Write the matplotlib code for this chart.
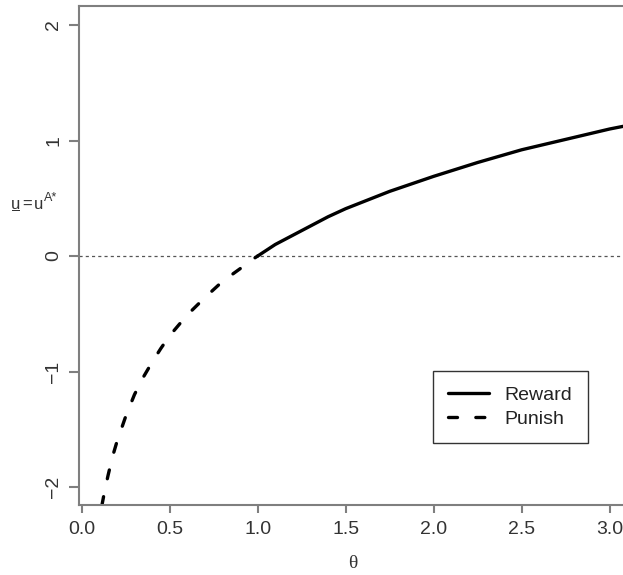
import matplotlib
matplotlib.use("Agg")
import matplotlib.pyplot as plt
from matplotlib.patches import Rectangle

# values
punish_theta = [0.115, 0.13, 0.15, 0.175, 0.2, 0.25, 0.3, 0.35, 0.4, 0.45,
                0.5, 0.6, 0.7, 0.8, 0.9, 0.95, 1.0]
punish_u = [-2.16, -2.04, -1.90, -1.74, -1.61, -1.39, -1.20, -1.05, -0.92, -0.80,
            -0.69, -0.51, -0.36, -0.22, -0.11, -0.05, 0.0]
reward_theta = [1.0, 1.05, 1.1, 1.2, 1.3, 1.4, 1.5, 1.75, 2.0, 2.25, 2.5, 2.75, 3.0, 3.2]
reward_u = [0.0, 0.05, 0.10, 0.18, 0.26, 0.34, 0.41, 0.56, 0.69, 0.81, 0.92, 1.01, 1.10, 1.16]

x_ticks = [0.0, 0.5, 1.0, 1.5, 2.0, 2.5, 3.0]
x_tick_labels = ["0.0", "0.5", "1.0", "1.5", "2.0", "2.5", "3.0"]
y_ticks = [-2, -1, 0, 1, 2]
y_tick_labels = ["\u22122", "\u22121", "0", "1", "2"]

plt.rcParams["font.family"] = ["Liberation Sans", "DejaVu Sans"]

W, H = 623, 575
fig = plt.figure(figsize=(W / 100, H / 100), dpi=100)

# axes in pixels: left 79, bottom spine at 504.7, top at 6, right beyond the crop
left_px, top_px, bottom_px = 79, 6, 504.7
xlim = (-0.015, 3.10)
px_per_unit = 176.0
width_px = px_per_unit * (xlim[1] - xlim[0])
ax = fig.add_axes([left_px / W, (H - bottom_px) / H, width_px / W, (bottom_px - top_px) / H])

spine_col = "#7f7f7f"
for s in ax.spines.values():
    s.set_color(spine_col)
    s.set_linewidth(1.5)

ax.axhline(0, color="#555555", lw=0.9, ls=(0, (2.5, 2.5)), zorder=1)
ax.plot(reward_theta, reward_u, color="black", lw=2.4, label="Reward",
        solid_capstyle="round")
ax.plot(punish_theta, punish_u, color="black", lw=2.4, ls=(0, (2.7, 5.5)),
        label="Punish", dash_capstyle="round")

ax.set_xlim(*xlim)
ax.set_ylim(-2.153, 2.165)
ax.set_xticks(x_ticks)
ax.set_xticklabels(x_tick_labels)
ax.set_yticks(y_ticks)
ax.set_yticklabels(y_tick_labels, rotation=90, va="center")
ax.tick_params(axis="both", colors=spine_col, labelcolor="#333333", labelsize=14,
               width=1.5)
ax.tick_params(axis="y", length=7, pad=5)
ax.tick_params(axis="x", length=6, pad=6)

ax.set_xlabel("\u03b8", family=["Liberation Serif", "DejaVu Serif"], fontsize=14,
              color="#333333")
ax.xaxis.set_label_coords((353 - left_px) / width_px, -(563 - bottom_px) / (bottom_px - top_px))
ax.xaxis.label.set_va("center")

# y label: horizontal, first u underlined, A* raised (pieces placed in pixels)
base = 1 - 209 / H
lab_col = "#333333"
fig.text(11 / W, base, "u", fontsize=12, color=lab_col, ha="left", va="baseline")
fig.text(22 / W, base, "=", fontsize=12, color=lab_col, ha="left", va="baseline")
fig.text(34 / W, base, "u", fontsize=12, color=lab_col, ha="left", va="baseline")
fig.text(44 / W, 1 - 200.7 / H, "A*", fontsize=9, color=lab_col, ha="left", va="baseline")
fig.add_artist(Rectangle((12 / W, 1 - 211.4 / H), 8 / W, 1.4 / H, facecolor=lab_col,
                         edgecolor="none", transform=fig.transFigure))

leg = ax.legend(loc="upper left", bbox_to_anchor=(432.7 / W, 1 - 371 / H),
                bbox_transform=fig.transFigure, borderaxespad=0, fancybox=False,
                edgecolor="#333333", fontsize=14, handlelength=2.1,
                handletextpad=0.8, labelspacing=0.3, borderpad=0.8, framealpha=1)
leg.get_frame().set_linewidth(1.0)
for t in leg.get_texts():
    t.set_color("#222222")

fig.savefig("out.png", dpi=100)
